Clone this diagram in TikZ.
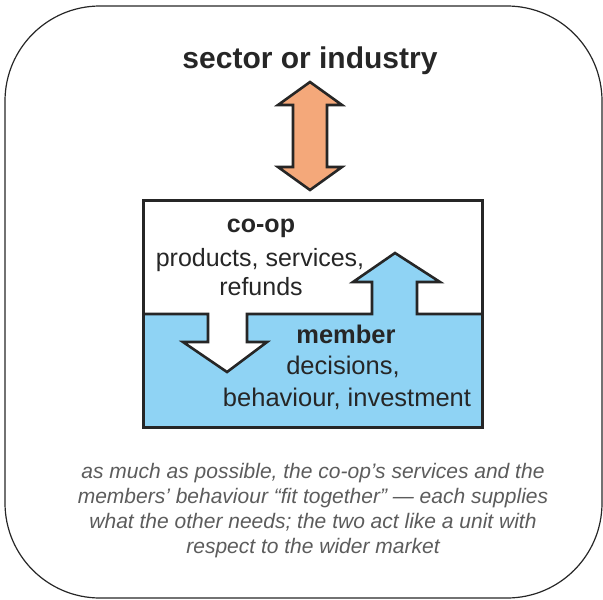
\documentclass[tikz,border=0pt]{standalone}
\usepackage{fontspec}
\setmainfont{Liberation Sans}
\definecolor{arroworange}{HTML}{F4A87A}
\definecolor{memberblue}{HTML}{8FD3F4}
\definecolor{inkgray}{HTML}{262626}
\definecolor{notegray}{HTML}{5C5C5C}

\begin{document}
\begin{tikzpicture}[x=1pt, y=-1pt,
    outline/.style={draw=inkgray, line width=2.6pt, line join=miter},
    boxtext/.style={inner sep=0pt, anchor=base, text=inkgray, font=\fontsize{25}{30}\selectfont},
    boxtitle/.style={boxtext, font=\fontsize{25}{30}\selectfont\bfseries},
    membertext/.style={boxtext, font=\fontsize{25.5}{30}\selectfont}]

    \useasboundingbox (0,0) rectangle (603,600);

    % Outer frame
    \draw[line width=1.2pt, draw=inkgray, rounded corners=95pt] (5,6) rectangle (602,598);

    % Sector or industry
    \node[boxtitle, font=\fontsize{30}{34}\selectfont\bfseries] (sector) at (310,68) {sector or industry};

    % Double arrow between sector and co-op
    \draw[outline, fill=arroworange] (310,82) -- (342,105) -- (327,105) -- (327,167) -- (342,167)
        -- (310,190) -- (278,167) -- (293,167) -- (293,105) -- (278,105) -- cycle;

    % Member part, with the up arrow
    \fill[memberblue] (143,314) -- (372,314) -- (372,282) -- (353,282) -- (395,253) -- (440,282)
        -- (417,282) -- (417,314) -- (482,314) -- (482,427) -- (143,427) -- cycle;

    % Co-op part reaching down
    \fill[white] (208,312) -- (208,342) -- (183,342) -- (227,372) -- (267,342) -- (247,342) -- (247,312) -- cycle;

    % Line between the two parts
    \draw[outline] (143,314) -- (208,314) -- (208,342) -- (183,342) -- (227,372) -- (267,342) -- (247,342)
        -- (247,314) -- (372,314) -- (372,282) -- (353,282) -- (395,253) -- (440,282) -- (417,282)
        -- (417,314) -- (482,314);

    % Box
    \draw[outline, line width=3pt] (143,200) rectangle (482,427);

    % Co-op text
    \node[boxtitle] (coop) at (261,232) {co-op};
    \node[boxtext] (coopgives) at (260,266) {products, services,};
    \node[boxtext] (refunds) at (261,295) {refunds};

    % Member text
    \node[boxtitle, font=\fontsize{25.5}{30}\selectfont\bfseries] (member) at (346,343) {member};
    \node[membertext] (decisions) at (343,374) {decisions,};
    \node[membertext] (behaviour) at (347,406) {behaviour, investment};

    % Note
    \node[inner sep=0pt, anchor=north, align=center, text=notegray,
        font=\fontsize{21}{25}\selectfont\itshape] (note) at (313,463)
        {as much as possible, the co-op’s services and the\\
         members’ behaviour “fit together” — each supplies\\
         what the other needs; the two act like a unit with\\
         respect to the wider market};

\end{tikzpicture}
\end{document}
